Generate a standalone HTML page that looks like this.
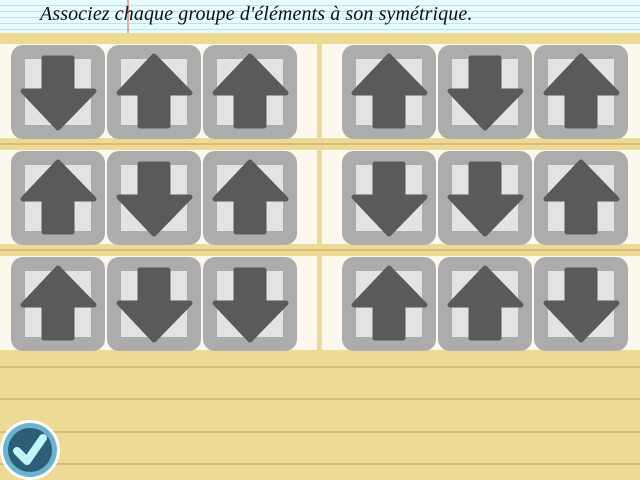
<!DOCTYPE html>
<html><head><style>
body{margin:0;width:640px;height:480px;overflow:hidden;position:relative;background:#eddb95;font-family:"Liberation Serif",serif}
#hdr{position:absolute;left:0;top:0;width:640px;height:33px;background:repeating-linear-gradient(#e8fbfd 0 5px,#bfe3ea 5px 6px)}
#red{position:absolute;left:127px;top:0;width:2px;height:33px;background:#f0a6a6}
#t{position:absolute;left:40px;top:3px;font-style:italic;font-size:20px;color:#111;letter-spacing:0.1px}
.line{position:absolute;left:0;width:640px;height:2px;background:#d5bf78}
.pan{position:absolute;background:#fdf8ec;height:94px}
</style></head><body>
<div id="hdr"></div><div id="red"></div>
<div id="t">Associez chaque groupe d'éléments à son symétrique.</div>
<div class="line" style="top:143px"></div>
<div class="line" style="top:249px"></div>
<div class="line" style="top:366px"></div>
<div class="line" style="top:398px"></div>
<div class="line" style="top:431px"></div>
<div class="line" style="top:463px"></div>
<div class="pan" style="left:0;width:317px;top:44px"></div>
<div class="pan" style="left:322px;width:318px;top:44px"></div>
<div class="pan" style="left:0;width:317px;top:150px"></div>
<div class="pan" style="left:322px;width:318px;top:150px"></div>
<div class="pan" style="left:0;width:317px;top:256px"></div>
<div class="pan" style="left:322px;width:318px;top:256px"></div>
<svg width="640" height="480" style="position:absolute;left:0;top:0">
<defs>
<g id="U"><rect x="0" y="0" width="94" height="94" rx="12" fill="#acacac"/><rect x="14" y="14" width="66" height="66" fill="#e3e3e3"/>
<path d="M47 11 L83 48 L61 48 L61 81 L33 81 L33 48 L12 48 Z" fill="#5a5a5a" stroke="#5a5a5a" stroke-width="5" stroke-linejoin="round"/></g>
<g id="D"><rect x="0" y="0" width="94" height="94" rx="12" fill="#acacac"/><rect x="14" y="14" width="66" height="66" fill="#e3e3e3"/>
<path d="M47 83 L83 46 L61 46 L61 13 L33 13 L33 46 L12 46 Z" fill="#5a5a5a" stroke="#5a5a5a" stroke-width="5" stroke-linejoin="round"/></g>
</defs>
<use href="#D" x="11" y="45"/><use href="#U" x="107" y="45"/><use href="#U" x="203" y="45"/>
<use href="#U" x="342" y="45"/><use href="#D" x="438" y="45"/><use href="#U" x="534" y="45"/>
<use href="#U" x="11" y="151"/><use href="#D" x="107" y="151"/><use href="#U" x="203" y="151"/>
<use href="#D" x="342" y="151"/><use href="#D" x="438" y="151"/><use href="#U" x="534" y="151"/>
<use href="#U" x="11" y="257"/><use href="#D" x="107" y="257"/><use href="#D" x="203" y="257"/>
<use href="#U" x="342" y="257"/><use href="#U" x="438" y="257"/><use href="#D" x="534" y="257"/>
<circle cx="30" cy="450" r="30" fill="#fff"/>
<circle cx="30" cy="450" r="27" fill="#6ab4cf"/>
<circle cx="30" cy="450" r="22" fill="#2a5f77"/>
<path d="M17 451 L27 461 L43 438" fill="none" stroke="#bff7fb" stroke-width="8" stroke-linecap="round" stroke-linejoin="round"/>
</svg>
</body></html>
